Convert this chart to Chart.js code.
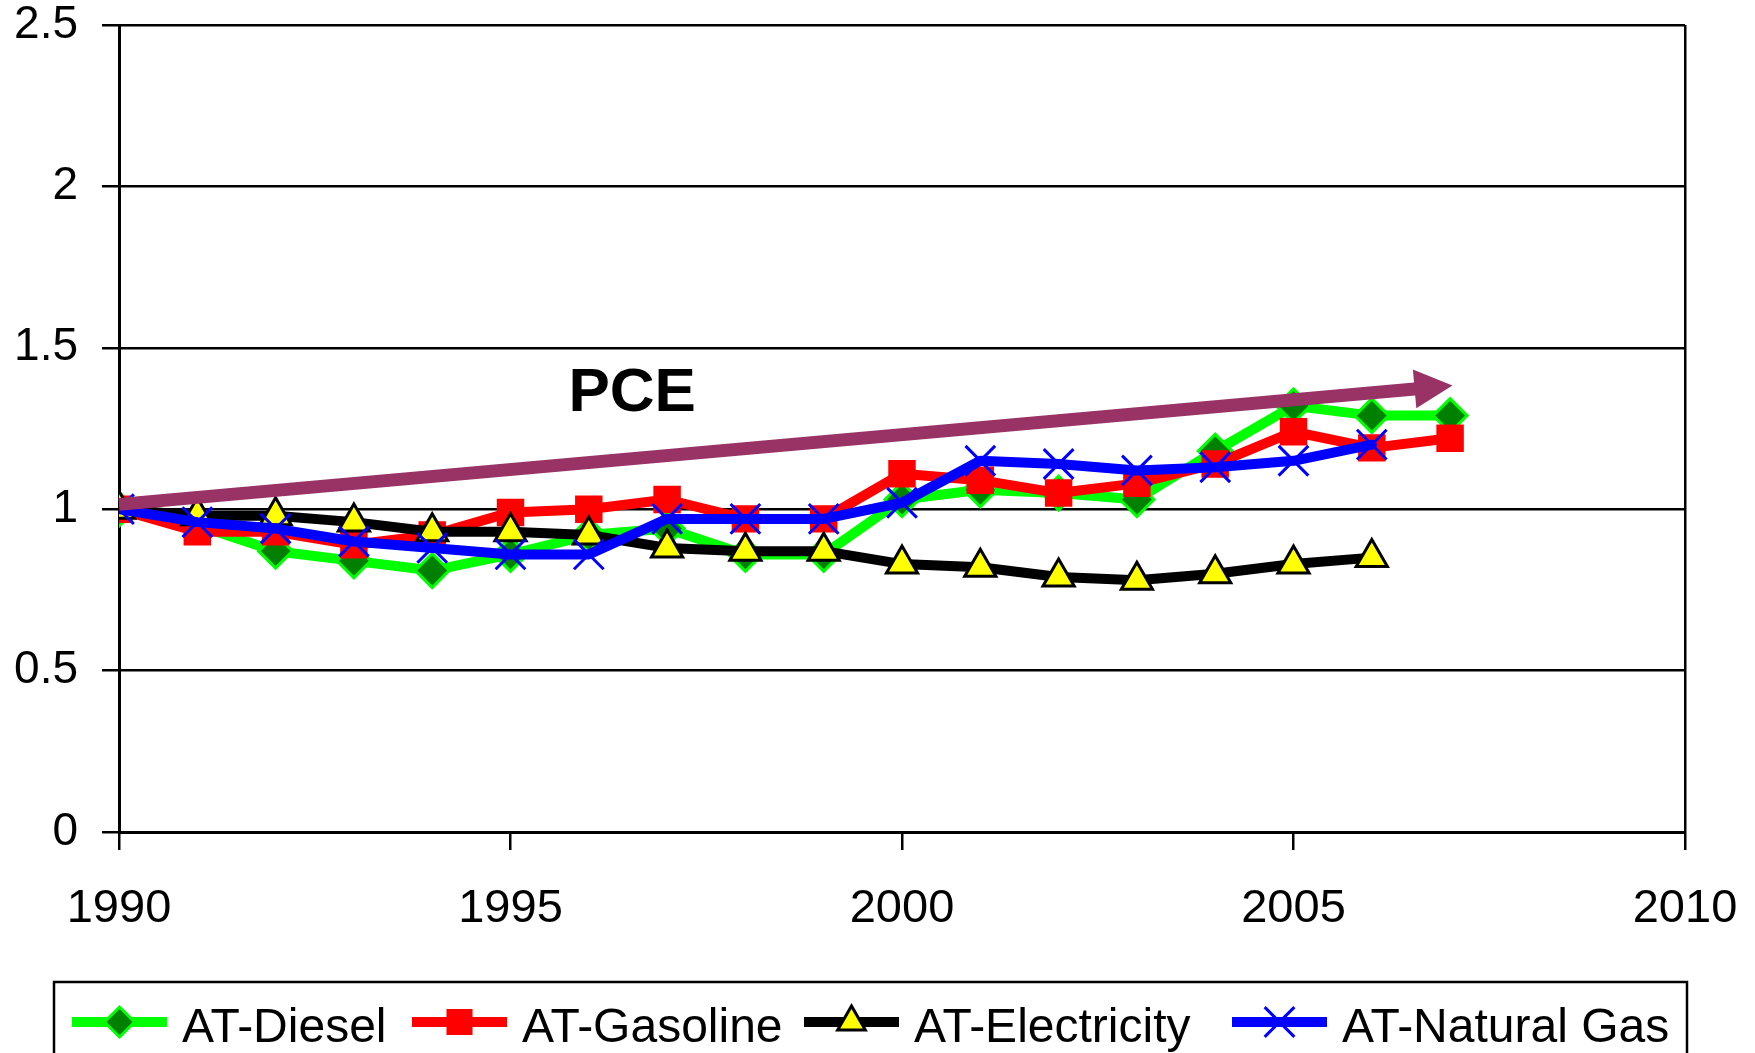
<!DOCTYPE html>
<html>
<head>
<meta charset="utf-8">
<script src="https://cdn.jsdelivr.net/npm/chart.js@4.4.0/dist/chart.umd.min.js"></script>
<style>
  html, body { margin: 0; padding: 0; background: #ffffff; }
  #wrap { width: 1755px; height: 1053px; }
</style>
</head>
<body>
<div id="wrap"><canvas id="pce" width="1755" height="1053"></canvas></div>
<script>
var years = [1990, 1991, 1992, 1993, 1994, 1995, 1996, 1997, 1998, 1999, 2000, 2001, 2002, 2003, 2004, 2005, 2006, 2007];
var diesel = [1.00, 0.95, 0.87, 0.84, 0.81, 0.86, 0.92, 0.94, 0.86, 0.86, 1.03, 1.06, 1.05, 1.03, 1.18, 1.32, 1.29, 1.29];
var gasoline = [1.00, 0.93, 0.93, 0.89, 0.92, 0.99, 1.00, 1.03, 0.97, 0.97, 1.11, 1.09, 1.05, 1.08, 1.14, 1.24, 1.19, 1.22];
var electricity = [1.00, 0.98, 0.98, 0.96, 0.93, 0.93, 0.92, 0.88, 0.87, 0.87, 0.83, 0.82, 0.79, 0.78, 0.80, 0.83, 0.85];
var naturalGas = [1.00, 0.96, 0.94, 0.90, 0.88, 0.86, 0.86, 0.97, 0.97, 0.97, 1.02, 1.15, 1.14, 1.12, 1.13, 1.15, 1.20];
var seriesNames = ["AT-Diesel", "AT-Gasoline", "AT-Electricity", "AT-Natural Gas"];
var xTicks = [1990, 1995, 2000, 2005, 2010];
var yTicks = [0, 0.5, 1, 1.5, 2, 2.5];

// PCE trend arrow (year, index) and its label
var pceStart = [1990, 1.015];
var pceEnd = [2007.03, 1.383];
var pceLabel = "PCE";
var pceLabelAt = [1995.74, 1.303];

var FONT = "'Liberation Sans', Arial, sans-serif";

function points(vals) {
  return vals.map(function (v, i) {
    return { x: years[i], y: v };
  });
}

var styles = [
  { line: "#00ff00", fill: "#008000", edge: "#00ff00", shape: "rectRot", r: 17, lr: 15, bw: 3 },
  { line: "#ff0000", fill: "#ff0000", edge: "#ff0000", shape: "rect", r: 18, lr: 17, bw: 2 },
  { line: "#000000", fill: "#ffff00", edge: "#000000", shape: "triangle", r: 18, lr: 16, bw: 3 },
  { line: "#0000ff", fill: "#0000ff", edge: "#0000ff", shape: "crossRot", r: 21, lr: 21, bw: 3 }
];
var values = [diesel, gasoline, electricity, naturalGas];

var datasets = values.map(function (vals, i) {
  var s = styles[i];
  return {
    label: seriesNames[i],
    data: points(vals),
    borderColor: s.line,
    borderWidth: 10,
    borderJoinStyle: "round",
    borderCapStyle: "round",
    tension: 0,
    pointStyle: s.shape,
    pointRadius: s.r,
    pointHoverRadius: s.r,
    pointBackgroundColor: s.fill,
    pointBorderColor: s.edge,
    pointBorderWidth: s.bw,
    order: 4 - i
  };
});

var extras = {
  id: "extras",
  afterDatasetsDraw: function (chart) {
    var ctx = chart.ctx;
    var xs = chart.scales.x, ys = chart.scales.y;

    // arrow
    var x0 = xs.getPixelForValue(pceStart[0]), y0 = ys.getPixelForValue(pceStart[1]);
    var x1 = xs.getPixelForValue(pceEnd[0]), y1 = ys.getPixelForValue(pceEnd[1]);
    var dx = x1 - x0, dy = y1 - y0, len = Math.sqrt(dx * dx + dy * dy);
    var ux = dx / len, uy = dy / len, nx = -uy, ny = ux;
    var shaft = 6.5, head = 19.5, headLen = 38;
    var bx = x1 - ux * headLen, by = y1 - uy * headLen;
    ctx.save();
    ctx.fillStyle = "#993366";
    ctx.beginPath();
    ctx.moveTo(x0 + nx * shaft, y0 + ny * shaft);
    ctx.lineTo(bx + nx * shaft, by + ny * shaft);
    ctx.lineTo(bx + nx * head, by + ny * head);
    ctx.lineTo(x1, y1);
    ctx.lineTo(bx - nx * head, by - ny * head);
    ctx.lineTo(bx - nx * shaft, by - ny * shaft);
    ctx.lineTo(x0 - nx * shaft, y0 - ny * shaft);
    ctx.closePath();
    ctx.fill();

    ctx.fillStyle = "#000000";
    ctx.font = "bold 62px " + FONT;
    ctx.textAlign = "left";
    ctx.textBaseline = "alphabetic";
    ctx.fillText(pceLabel, xs.getPixelForValue(pceLabelAt[0]), ys.getPixelForValue(pceLabelAt[1]));
    ctx.restore();
  },
  afterDraw: function (chart) {
    // legend: line sample with marker, then the name
    var ctx = chart.ctx;
    var starts = [72, 412, 804, 1232];
    var lineY = 1022, sample = 95;
    ctx.save();
    ctx.strokeStyle = "#000000";
    ctx.lineWidth = 2.5;
    ctx.strokeRect(54, 982, 1633, 100);
    ctx.font = "48px " + FONT;
    ctx.textAlign = "left";
    ctx.textBaseline = "alphabetic";
    chart.data.datasets.forEach(function (ds, i) {
      var s = styles[i];
      var sx = starts[i];
      ctx.strokeStyle = s.line;
      ctx.lineWidth = 10;
      ctx.lineCap = "butt";
      ctx.beginPath();
      ctx.moveTo(sx, lineY);
      ctx.lineTo(sx + sample, lineY);
      ctx.stroke();
      ctx.fillStyle = s.fill;
      ctx.strokeStyle = s.edge;
      ctx.lineWidth = s.bw;
      Chart.helpers.drawPoint(ctx, { pointStyle: s.shape, radius: s.lr, rotation: 0, borderWidth: s.bw }, sx + sample / 2, lineY);
      ctx.fillStyle = "#000000";
      ctx.fillText(ds.label, sx + sample + 15, 1042);
    });
    ctx.restore();
  }
};

var chart = new Chart(document.getElementById("pce").getContext("2d"), {
  type: "line",
  data: { datasets: datasets },
  options: {
    responsive: false,
    animation: false,
    devicePixelRatio: 1,
    layout: { padding: { left: 0, right: 70, top: 25, bottom: 0 } },
    plugins: {
      legend: { display: false },
      tooltip: { enabled: false },
      title: { display: false }
    },
    scales: {
      x: {
        type: "linear",
        min: 1990,
        max: 2010,
        afterFit: function (scale) {
          scale.height = 221;
          scale.paddingLeft = 0;
          scale.paddingRight = 0;
        },
        afterBuildTicks: function (scale) {
          scale.ticks = xTicks.map(function (v) { return { value: v }; });
        },
        ticks: {
          color: "#000000",
          font: { family: FONT, size: 47, lineHeight: 1 },
          padding: 36,
          maxRotation: 0,
          callback: function (v) { return String(v); }
        },
        grid: {
          drawOnChartArea: true,
          color: function (c) { return c.tick && c.tick.value === 2010 ? "#000000" : "rgba(0,0,0,0)"; },
          lineWidth: 2.5,
          tickColor: "#000000",
          tickLength: 18,
          tickWidth: 2.5
        },
        border: { display: true, color: "#000000", width: 3 }
      },
      y: {
        min: 0,
        max: 2.5,
        afterFit: function (scale) {
          scale.width = 119;
          scale.paddingTop = 0;
          scale.paddingBottom = 0;
        },
        afterBuildTicks: function (scale) {
          scale.ticks = yTicks.map(function (v) { return { value: v }; });
        },
        ticks: {
          color: "#000000",
          font: { family: FONT, size: 46, lineHeight: 1 },
          padding: 24,
          callback: function (v) { return String(v); }
        },
        grid: {
          color: "#000000",
          lineWidth: 2.5,
          tickLength: 17,
          tickColor: "#000000"
        },
        border: { display: true, color: "#000000", width: 3 }
      }
    }
  },
  plugins: [extras]
});
</script>
</body>
</html>
